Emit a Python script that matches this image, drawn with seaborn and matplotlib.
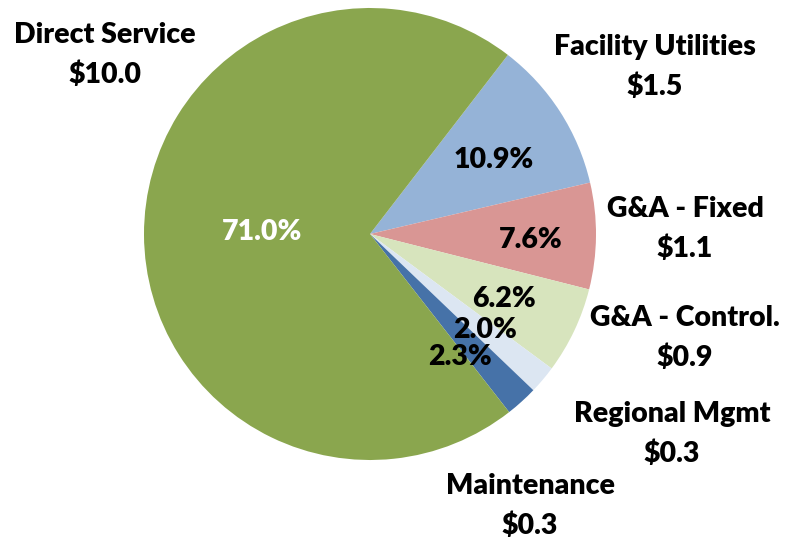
import matplotlib
matplotlib.use("Agg")
import matplotlib.pyplot as plt
import seaborn as sns

sns.set_theme(style="white")
plt.rcParams["font.family"] = ["Lato", "DejaVu Sans"]

# ---- data ----
categories = ["Facility Utilities", "G&A - Fixed", "G&A - Control.",
              "Regional Mgmt", "Maintenance", "Direct Service"]
shares = [10.9, 7.6, 6.2, 2.0, 2.3, 71.0]          # percent of total
dollars = [1.5, 1.1, 0.9, 0.3, 0.3, 10.0]           # $ (millions)
colors = ["#95B3D7", "#D99694", "#D7E4BD", "#DCE6F2", "#4672A8", "#8AA64E"]

W, H = 792, 540
fig = plt.figure(figsize=(W / 100, H / 100), dpi=100)
cx, cy, r = 370, 234, 226
ax = fig.add_axes([(cx - r) / W, (H - cy - r) / H, 2 * r / W, 2 * r / H])

ax.pie(shares, colors=colors, startangle=52.4, counterclock=False,
       radius=1, wedgeprops={"linewidth": 0})
ax.set_xlim(-1, 1)
ax.set_ylim(-1, 1)
ax.set_aspect("equal")
ax.axis("off")


def px(x, y):
    return x / W, 1 - y / H


# category labels outside the pie (pixel centres)
label_pos = [(655, 67), (685, 229), (685, 338), (672, 434), (530, 506), (105, 55)]
for name, d, (x, y) in zip(categories, dollars, label_pos):
    fig.text(*px(x, y), f"{name}\n${d:.1f}", ha="center", va="center",
             fontsize=20.5, fontweight="heavy", linespacing=1.62, color="black")

# percent labels inside
pct_pos = [(494, 160), (531, 240), (504, 299), (485, 330), (460, 357), (262, 232)]
for s, (x, y), name in zip(shares, pct_pos, categories):
    c = "white" if name == "Direct Service" else "black"
    fig.text(*px(x, y), f"{s:.1f}%", ha="center", va="center",
             fontsize=20.5, fontweight="heavy", color=c)

fig.savefig("out.png", dpi=100)
